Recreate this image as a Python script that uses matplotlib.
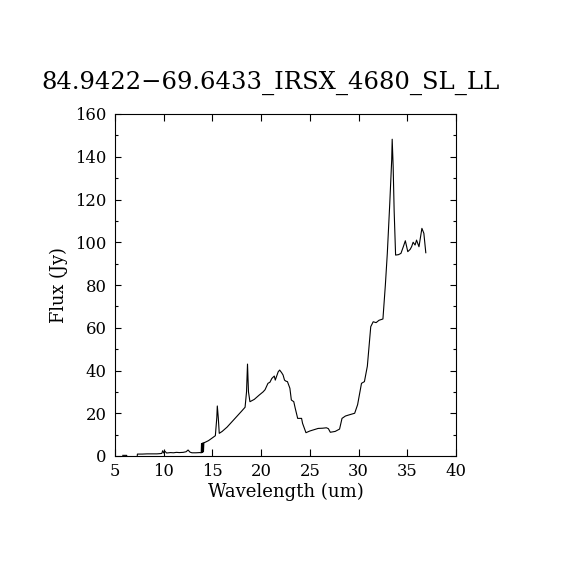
import matplotlib
matplotlib.use("Agg")
import matplotlib.pyplot as plt
from matplotlib.ticker import MultipleLocator

# spectrum (wavelength in um, flux in Jy)
wave = [5.8, 6.2, 6.25, 7.25, 7.3, 7.8, 8.3, 8.8, 9.3, 9.6, 9.8, 9.9, 10.0,
        10.1, 10.3, 10.5, 10.7, 11.0, 11.3, 11.6, 12.0, 12.3, 12.5, 12.7,
        12.9, 13.3, 13.7, 13.85, 13.88, 13.92, 13.96, 14.0, 14.04, 14.08,
        14.12, 14.16, 14.2, 14.6, 15.0, 15.3, 15.45, 15.5, 15.6, 15.7, 16.0,
        16.5, 17.0, 17.5, 18.0, 18.35, 18.5, 18.6, 18.7, 18.85, 19.3, 19.8,
        20.2, 20.4, 20.7, 20.9, 21.1, 21.35, 21.45, 21.75, 21.9, 22.1, 22.25,
        22.4, 22.55, 22.7, 22.95, 23.1, 23.35, 23.5, 23.75, 24.15, 24.25,
        24.6, 25.0, 25.85, 26.3, 26.7, 26.9, 27.1, 27.6, 28.05, 28.3, 28.65,
        29.0, 29.6, 29.9, 30.3, 30.6, 30.9, 31.25, 31.5, 31.8, 32.1, 32.5,
        32.75, 32.95, 33.2, 33.4, 33.45, 33.55, 33.65, 33.8, 34.1, 34.35,
        34.6, 34.8, 35.05, 35.3, 35.45, 35.6, 35.8, 35.95, 36.2, 36.5,
        36.7, 36.9]
flux = [0.3, 0.3, -2.0, -2.0, 0.9, 0.9, 1.0, 1.0, 1.0, 1.1, 1.2, 2.5, 1.4,
        2.3, 1.4, 1.5, 1.6, 1.5, 1.7, 1.6, 1.7, 2.0, 2.8, 1.8,
        1.5, 1.5, 1.6, 1.5, 5.8, 1.6, 6.0, 1.8, 6.1, 2.0,
        6.2, 6.3, 6.3, 7.2, 8.5, 9.5, 18.0, 23.4, 18.0, 10.6, 11.5,
        13.5, 16.0, 18.5, 21.0, 22.8, 30.0, 43.0, 30.0, 25.4, 26.5, 28.5,
        30.0, 31.0, 34.0, 34.5, 36.3, 37.4, 35.5, 39.4, 40.2, 39.0, 37.9,
        35.5, 35.0, 34.8, 31.7, 26.2, 25.4, 22.3, 17.6, 17.6, 15.3,
        10.9, 11.7, 12.9, 13.0, 13.2, 12.8, 11.1, 11.5, 12.6, 17.6, 18.7,
        19.2, 20.0, 24.0, 34.0, 34.8, 42.0, 60.5, 62.8, 62.4, 63.5, 64.1,
        80.0, 94.8, 118.0, 138.5, 148.2, 135.4, 115.0, 94.0, 94.2, 94.8,
        98.0, 100.7, 95.6, 96.7, 98.0, 100.0, 98.7, 101.0, 97.9, 106.5,
        104.2, 95.1]

title = "84.9422\u221269.6433_IRSX_4680_SL_LL"
xlabel = "Wavelength (um)"
ylabel = "Flux (Jy)"

plt.rcParams['font.family'] = ['DejaVu Serif']

fig = plt.figure(figsize=(5.7, 5.7), dpi=100)
ax = fig.add_axes([115/570, 114/570, 341/570, 342/570])
ax.plot(wave, flux, color='black', lw=0.8)
ax.set_xlim(5, 40)
ax.set_ylim(0, 160)
ax.xaxis.set_major_locator(MultipleLocator(5))
ax.yaxis.set_major_locator(MultipleLocator(20))
ax.yaxis.set_minor_locator(MultipleLocator(10))
ax.tick_params(axis='both', which='both', direction='in', top=True, right=True,
               labelsize=11.8, width=0.8)
ax.tick_params(axis='x', which='major', length=5, pad=5)
ax.tick_params(axis='y', which='major', length=4.3, pad=6)
ax.tick_params(axis='y', which='minor', length=2.2)
for s in ax.spines.values():
    s.set_linewidth(0.8)
ax.set_xlabel(xlabel, fontsize=13, labelpad=2)
ax.set_ylabel(ylabel, fontsize=12.8, labelpad=5)
fig.text(271/570, 1 - 83/570, title, ha='center', va='center', fontsize=17.5)

fig.savefig("out.png", dpi=100)
